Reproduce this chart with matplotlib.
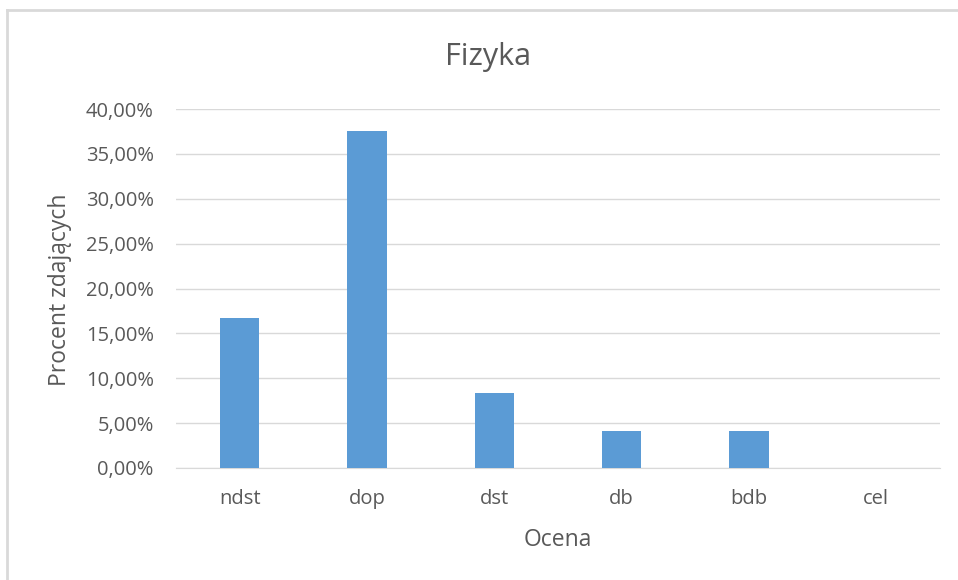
import matplotlib
matplotlib.use("Agg")
import matplotlib.pyplot as plt
from matplotlib.ticker import FuncFormatter, MultipleLocator
from matplotlib.lines import Line2D

categories = ["ndst", "dop", "dst", "db", "bdb", "cel"]
values = [0.1667, 0.375, 0.0833, 0.0417, 0.0417, 0.0]

title = "Fizyka"
ylabel = "Procent zdających"
xlabel = "Ocena"

plt.rcParams['font.family'] = ['Open Sans', 'DejaVu Sans']
txt = "#595959"
W, H = 958, 580
fig = plt.figure(figsize=(W / 100, H / 100), dpi=100)
ax = fig.add_axes([176 / W, 1 - 468 / H, (940 - 176) / W, (468 - 109) / H])

x = range(len(categories))
ax.bar(x, values, width=0.31, color="#5B9BD5", zorder=3)
ax.set_xlim(-0.5, len(categories) - 0.5)
ax.set_ylim(0, 0.40)
ax.yaxis.set_major_locator(MultipleLocator(0.05))
ax.yaxis.set_major_formatter(FuncFormatter(lambda v, p: f"{v*100:.2f}%".replace(".", ",")))
ax.set_xticks(list(x))
ax.set_xticklabels(categories)
ax.grid(axis="y", color="#D9D9D9", linewidth=1, zorder=0)
for s in ["top", "right", "left"]:
    ax.spines[s].set_visible(False)
ax.spines["bottom"].set_color("#D9D9D9")
ax.tick_params(axis="both", length=0, labelcolor=txt, labelsize=14.5)
ax.tick_params(axis="x", pad=15)
ax.tick_params(axis="y", pad=16)

fig.text(488 / W, 1 - 57 / H, title, ha="center", va="center", fontsize=22, color=txt)
fig.text(60 / W, 1 - 290 / H, ylabel, ha="center", va="center", rotation=90, fontsize=16.5, color=txt)
fig.text(558 / W, 1 - 540 / H, xlabel, ha="center", va="center", fontsize=16.5, color=txt)

# outer frame
fig.add_artist(Line2D([7 / W, 7 / W], [0, 1 - 10 / H], color="#D9D9D9", lw=2, transform=fig.transFigure))
fig.add_artist(Line2D([7 / W, 1], [1 - 10 / H, 1 - 10 / H], color="#D9D9D9", lw=2, transform=fig.transFigure))

fig.savefig("out.png", dpi=100)
